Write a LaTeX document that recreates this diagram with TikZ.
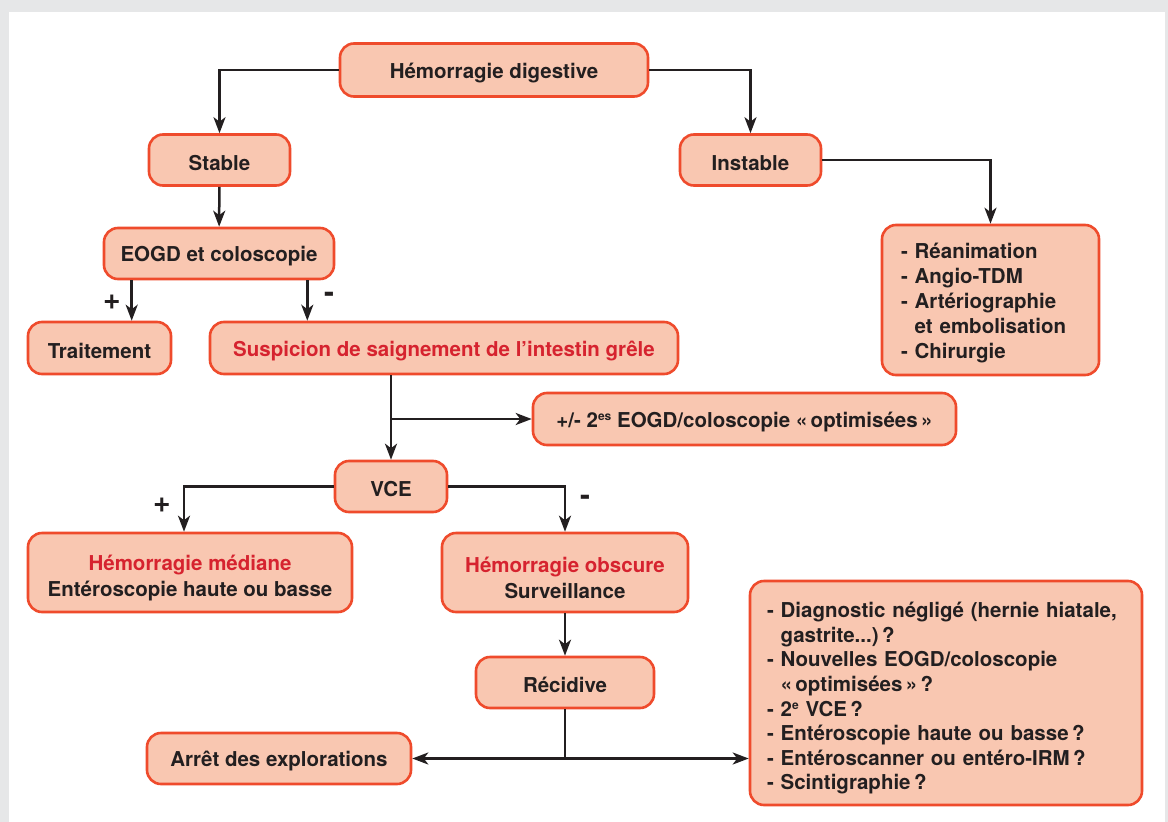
\documentclass[tikz,border=0pt]{standalone}
\usepackage{fontspec}
\setmainfont{TeX Gyre Heros}
\usetikzlibrary{arrows.meta}
\definecolor{boxfill}{HTML}{F9C7B1}
\definecolor{boxline}{HTML}{EF4B2C}
\definecolor{alert}{HTML}{D6232F}
\definecolor{ink}{HTML}{231F20}
\definecolor{framegray}{HTML}{E6E7E8}
% small raised text for ordinal endings
\newcommand\exposant[1]{\raisebox{0.62ex}{\fontsize{12}{12}\selectfont #1}}
\begin{document}
\begin{tikzpicture}[x=1pt,y=-1pt,
  box/.style={draw=boxline, fill=boxfill, line width=2.6pt, rounded corners=14pt,
    font=\fontsize{20.5}{25}\selectfont\bfseries, text=ink, inner sep=0pt, align=center,
    execute at begin node={\rule{0pt}{21pt}}},
  listbox/.style={box, align=left, inner xsep=#1},
  link/.style={draw=ink, line width=2.5pt, -{Stealth[length=16pt,width=12pt,inset=4.5pt]}},
  plain/.style={draw=ink, line width=2.5pt},
  sign/.style={font=\fontsize{30}{30}\selectfont\bfseries, text=ink, inner sep=0pt},
  red/.style={text=alert}]

% page frame
\useasboundingbox (0,0) rectangle (1168,822);
\fill[framegray] (0,0) rectangle (1168,822);
\fill[white] (9,12) rectangle (1165,822);

% boxes
\node[box, minimum width=308pt, minimum height=53pt] (hd) at (494,70) {Hémorragie digestive};
\node[box, minimum width=141pt, minimum height=51pt] (stable) at (219.5,160) {Stable};
\node[box, minimum width=141pt, minimum height=51pt] (instable) at (750.5,160) {Instable};
\node[box, minimum width=230pt, minimum height=51pt] (eogd) at (219,253.5) {EOGD et coloscopie};
\node[box, minimum width=143pt, minimum height=52pt] (trait) at (99.5,348) {Traitement};
\node[box, red, minimum width=468pt, minimum height=52pt] (susp) at (444,348) {Suspicion de saignement de l’intestin grêle};
\node[listbox=19pt, text width=179pt, minimum width=217pt, minimum height=150pt] (rea) at (990.5,300)
  {- Réanimation\\- Angio-TDM\\- Artériographie\\\phantom{- }et embolisation\\- Chirurgie};
\node[box, minimum width=423pt, minimum height=52pt] (opt) at (744.5,419)
  {+/- 2\exposant{es} EOGD/coloscopie «\,optimisées\,»};
\node[box, minimum width=112pt, minimum height=51pt] (vce) at (391,486.5) {VCE};
\node[box, minimum width=324pt, minimum height=79pt] (med) at (190,572.5)
  {\rule{0pt}{25.5pt}\textcolor{alert}{Hémorragie médiane}\\[1pt]Entéroscopie haute ou basse};
\node[box, minimum width=246pt, minimum height=79pt] (obs) at (565,572.5)
  {\rule{0pt}{25.5pt}\textcolor{alert}{Hémorragie obscure}\\[1pt]Surveillance};
\node[box, minimum width=178pt, minimum height=51pt] (rec) at (565,682.5) {Récidive};
\node[box, minimum width=264pt, minimum height=51pt] (arret) at (279,758.5) {Arrêt des explorations};
\node[listbox=17pt, text width=358pt, minimum width=392pt, minimum height=224pt,
      font=\fontsize{20.5}{24.6}\selectfont\bfseries] (bilan) at (946,693)
  {\rule{0pt}{26pt}- Diagnostic négligé (hernie hiatale,\\\phantom{- }gastrite...)\,?\\- Nouvelles EOGD/coloscopie\\\phantom{- }«\,optimisées\,»\,?\\- 2\exposant{e} VCE\,?\\- Entéroscopie haute ou basse\,?\\- Entéroscanner ou entéro-IRM\,?\\- Scintigraphie\,?};

% connectors
\draw[link] (hd.west) -| (stable.north);
\draw[link] (hd.east) -| (instable.north);
\draw[link] (stable) -- (eogd);
\draw[link] (instable.east) -| (rea.north);

\coordinate (pos) at ([xshift=29pt]eogd.south west);
\coordinate (neg) at ([xshift=-28pt]eogd.south east);
\draw[link] (pos) -- (pos |- trait.north);
\draw[link] (neg) -- (neg |- susp.north);
\node[sign] (p1) at (112,302) {+};
\node[sign] (m1) at (329,297) {-};

\coordinate (sv) at (susp.south -| vce.north);
\draw[link] (sv) -- (vce.north);
\draw[link] (vce.north |- opt.west) -- (opt.west);

\coordinate (mt) at ([xshift=-6pt]med.north);
\draw[link] (vce.west) -| (mt);
\draw[link] (vce.east) -| (obs.north);
\node[sign] (p2) at (162,505) {+};
\node[sign] (m2) at (585,500) {-};

\draw[link] (obs) -- (rec);
\coordinate (split) at (rec.south |- arret.east);
\draw[plain] (rec.south) -- (split);
\draw[link] (split) -- (arret.east);
\draw[link] (split) -- (split -| bilan.west);
\end{tikzpicture}
\end{document}
